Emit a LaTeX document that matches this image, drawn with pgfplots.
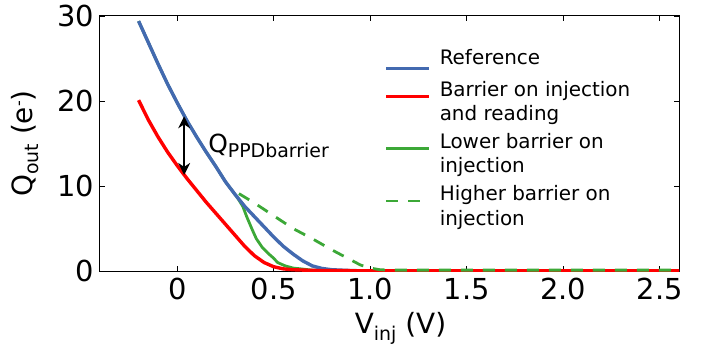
\documentclass[border=0pt]{standalone}
\usepackage{fontspec}
\setmainfont{DejaVu Sans}
\usepackage{pgfplots}
\pgfplotsset{compat=1.18}
\usetikzlibrary{arrows.meta}
\definecolor{cblue}{RGB}{67,106,176}
\definecolor{cred}{RGB}{255,0,0}
\definecolor{cgreen}{RGB}{60,168,55}

\pgfplotstableread{
x y
-0.2 29.4
-0.15 26.9
-0.1 24.4
-0.05 22.0
0 19.8
0.05 17.7
0.1 15.8
0.15 14.0
0.2 12.3
0.25 10.5
0.3 9.0
0.35 7.6
0.4 6.4
0.45 5.2
0.5 4.0
0.55 2.9
0.6 2.0
0.65 1.2
0.7 0.6
0.75 0.3
0.8 0.15
0.9 0.05
1.0 0.0
2.6 0.0
}\bluedata

\pgfplotstableread{
x y
-0.2 20.1
-0.15 17.8
-0.1 15.8
-0.05 14.0
0 12.4
0.05 10.9
0.1 9.5
0.15 8.1
0.2 6.8
0.25 5.5
0.3 4.2
0.35 2.9
0.4 1.8
0.45 1.0
0.5 0.5
0.55 0.25
0.6 0.15
0.7 0.07
0.8 0.04
1.0 0.03
2.6 0.03
}\reddata

\pgfplotstableread{
x y
-0.2 29.4
-0.15 26.9
-0.1 24.4
-0.05 22.0
0 19.8
0.05 17.7
0.1 15.8
0.15 14.0
0.2 12.3
0.25 10.5
0.3 9.0
0.31 8.7
0.34 7.6
0.36 6.4
0.39 4.8
0.41 3.8
0.44 2.8
0.47 2.1
0.5 1.5
0.52 1.0
0.56 0.6
0.6 0.35
0.7 0.1
0.8 0.03
1.0 0.02
2.6 0.02
}\lowdata

\pgfplotstableread{
x y
0.32 9.1
0.4 8.0
0.5 6.5
0.6 5.0
0.7 3.8
0.8 2.5
0.9 1.3
0.95 0.7
1.0 0.35
1.05 0.15
1.1 0.1
2.6 0.1
}\highdata

\begin{document}
\begin{tikzpicture}
\begin{axis}[
  scale only axis, width=579bp, height=255bp,
  xmin=-0.4, xmax=2.6, ymin=0, ymax=30,
  xtick={0,0.5,1,1.5,2,2.5},
  xticklabels={0,0.5,1.0,1.5,2.0,2.5},
  ytick={0,10,20,30},
  tick align=inside,
  major tick length=5bp,
  tick style={black, line width=0.8bp},
  axis line style={black, line width=1bp},
  /pgf/number format/assume math mode=true,
  ticklabel style={font=\fontsize{29}{29}\selectfont, inner sep=0pt},
  xticklabel style={anchor=north, yshift=-7bp},
  yticklabel style={anchor=east, xshift=-6bp},
  xlabel={V\raisebox{-7bp}{\fontsize{19}{19}\selectfont inj} (V)},
  xlabel style={font=\fontsize{28}{28}\selectfont, at={(axis description cs:0.5,0)}, anchor=base, yshift=-62bp, xshift=11bp, inner sep=0pt},
  ylabel={Q\raisebox{-6bp}{\fontsize{19}{19}\selectfont out} (e\raisebox{9bp}{\fontsize{16}{16}\selectfont -})},
  ylabel style={font=\fontsize{28}{28}\selectfont, at={(axis description cs:0,0.5)}, anchor=base, rotate=0, yshift=67bp, inner sep=0pt},
  legend style={draw=none, fill=none, at={(rel axis cs:0.492,0.8706)}, anchor=north west,
    font=\fontsize{20}{24}\selectfont, inner sep=0pt, row sep=0pt, column sep=9bp,
    nodes={inner sep=0pt, text height=15bp}},
  legend cell align=left,
  legend image code/.code={\draw[#1] (0bp,-3bp) -- (43bp,-3bp);},
]
\addlegendimage{cblue, line width=2.7bp}
\addlegendentry[text depth=17bp]{Reference}
\addlegendimage{cred, line width=2.7bp}
\addlegendentry[text depth=9bp]{Barrier on injection}
\addlegendimage{empty legend}
\addlegendentry[text depth=13bp]{and reading}
\addlegendimage{cgreen, line width=2.7bp}
\addlegendentry[text depth=9bp]{Lower barrier on}
\addlegendimage{empty legend}
\addlegendentry[text depth=13.5bp]{injection}
\addlegendimage{cgreen, line width=2.7bp, dash pattern=on 12bp off 10bp}
\addlegendentry[text depth=9.5bp]{Higher barrier on}
\addlegendimage{empty legend}
\addlegendentry[text depth=5bp]{injection}

\addplot[cgreen, line width=2.8bp, forget plot] table[x=x,y=y] {\lowdata};
\addplot[cblue, line width=3.4bp, forget plot] table[x=x,y=y] {\bluedata};
\addplot[cred, line width=3.4bp, forget plot] table[x=x,y=y] {\reddata};
\addplot[cgreen, line width=2.8bp, dash pattern=on 12bp off 10bp, forget plot] table[x=x,y=y] {\highdata};

\draw[black, line width=1.6bp, {Stealth[length=12bp,width=12bp]}-{Stealth[length=12bp,width=12bp]}] (axis cs:0.036,18.2) -- (axis cs:0.036,11.3);
\node[anchor=base west, inner sep=0pt, font=\fontsize{25}{25}\selectfont] at (axis cs:0.16,13.9) {Q\raisebox{-5bp}{\fontsize{19}{19}\selectfont PPDbarrier}};

\path (rel axis cs:0,0) ++(-100bp,-75bp) coordinate (bbsw);
\path (rel axis cs:1,1) ++(31bp,16bp) coordinate (bbne);
\end{axis}
\path (bbsw) rectangle (bbne);
\end{tikzpicture}
\end{document}
